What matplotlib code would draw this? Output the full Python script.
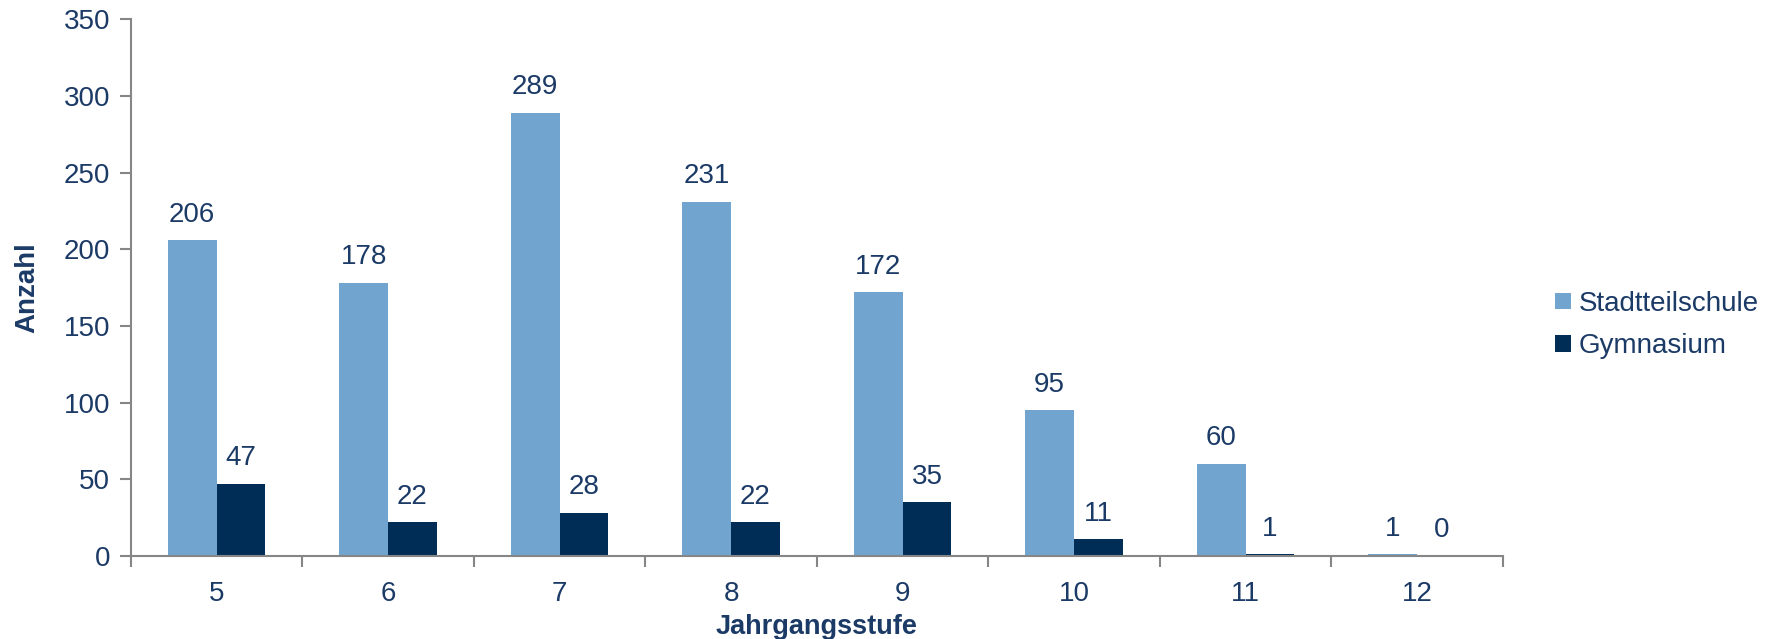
import numpy as np
import matplotlib
matplotlib.use("Agg")
import matplotlib.pyplot as plt
from matplotlib.ticker import FixedLocator

plt.rcParams["font.family"] = ["Liberation Sans", "DejaVu Sans"]

stufen = ["5", "6", "7", "8", "9", "10", "11", "12"]
stadtteilschule = [206, 178, 289, 231, 172, 95, 60, 1]
gymnasium = [47, 22, 28, 22, 35, 11, 1, 0]

TEXT = "#1B3A66"
LIGHT = "#71A5D0"
DARK = "#002D56"
AXIS = "#868686"
FS = 20

fig = plt.figure(figsize=(17.68, 6.39), dpi=100)
ax = fig.add_axes([0.074, 0.130, 0.776, 0.840])

x = np.arange(len(stufen))
w = 0.284
b1 = ax.bar(x - w / 2, stadtteilschule, w, color=LIGHT, label="Stadtteilschule")
b2 = ax.bar(x + w / 2, gymnasium, w, color=DARK, label="Gymnasium")

for bars, vals in ((b1, stadtteilschule), (b2, gymnasium)):
    for rect, v in zip(bars, vals):
        ax.annotate(str(v), (rect.get_x() + rect.get_width() / 2, rect.get_height()),
                    xytext=(0, 9), textcoords="offset points",
                    ha="center", va="bottom", fontsize=FS, color=TEXT)

ax.set_xlim(-0.5, len(stufen) - 0.5)
ax.set_ylim(0, 350)
ax.set_yticks(range(0, 351, 50))
ax.set_xticks(x)
ax.set_xticklabels(stufen)
ax.xaxis.set_minor_locator(FixedLocator(np.arange(-0.5, len(stufen), 1)))
ax.tick_params(axis="x", which="major", length=0, pad=18, labelsize=FS, labelcolor=TEXT)
ax.tick_params(axis="x", which="minor", length=8, width=1.5, color=AXIS)
ax.tick_params(axis="y", length=8, width=1.5, color=AXIS, pad=7, labelsize=FS, labelcolor=TEXT)

for s in ("top", "right"):
    ax.spines[s].set_visible(False)
for s in ("left", "bottom"):
    ax.spines[s].set_color(AXIS)
    ax.spines[s].set_linewidth(1.5)

ax.set_xlabel("Jahrgangsstufe", fontsize=19.5, fontweight="bold", color=TEXT, labelpad=5)
ax.set_ylabel("Anzahl", fontsize=FS, fontweight="bold", color=TEXT, labelpad=17)

leg = ax.legend(loc="center left", bbox_to_anchor=(1.02, 0.43), frameon=False,
                fontsize=FS, handlelength=0.55, handleheight=0.55, handletextpad=0.3,
                labelspacing=0.6)
for t in leg.get_texts():
    t.set_color(TEXT)

fig.savefig("out.png", dpi=100)
